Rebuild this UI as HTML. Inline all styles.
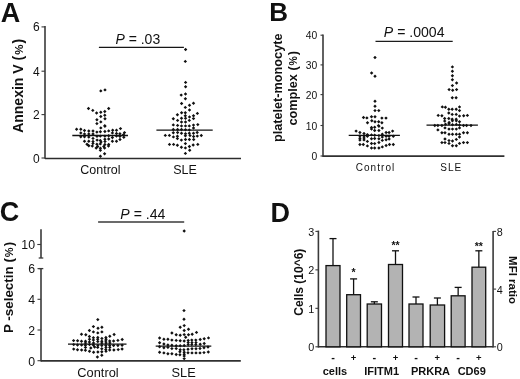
<!DOCTYPE html>
<html><head><meta charset="utf-8"><style>
html,body{margin:0;padding:0;background:#fff;}
body{width:520px;height:379px;overflow:hidden;}
svg{display:block;font-family:"Liberation Sans", sans-serif;filter:blur(0.3px);}
text{fill:#111;}
</style></head><body>
<svg width="520" height="379" viewBox="0 0 520 379">
<rect width="520" height="379" fill="#fff"/>
<text x="0.8" y="22.0" font-size="27" text-anchor="start" font-weight="bold" font-style="normal" >A</text><line x1="45" y1="25.9" x2="45" y2="158.8" stroke="#3a3a3a" stroke-width="1.6"/><line x1="45" y1="158.4" x2="241" y2="158.4" stroke="#2c2c2c" stroke-width="1.5"/><line x1="41.5" y1="158" x2="45" y2="158" stroke="#3a3a3a" stroke-width="1.1"/><text x="39.6" y="162.5" font-size="12" text-anchor="end" font-weight="normal" font-style="normal" >0</text><line x1="41.5" y1="114.6" x2="45" y2="114.6" stroke="#3a3a3a" stroke-width="1.1"/><text x="39.6" y="119.1" font-size="12" text-anchor="end" font-weight="normal" font-style="normal" >2</text><line x1="41.5" y1="71.2" x2="45" y2="71.2" stroke="#3a3a3a" stroke-width="1.1"/><text x="39.6" y="75.7" font-size="12" text-anchor="end" font-weight="normal" font-style="normal" >4</text><line x1="41.5" y1="26.9" x2="45" y2="26.9" stroke="#3a3a3a" stroke-width="1.1"/><text x="39.6" y="31.4" font-size="12" text-anchor="end" font-weight="normal" font-style="normal" >6</text><text x="100.4" y="173.8" font-size="12.5" text-anchor="middle" font-weight="normal" font-style="normal" >Control</text><text x="185" y="173.8" font-size="12.5" text-anchor="middle" font-weight="normal" font-style="normal" >SLE</text><text transform="translate(23.3,85.8) rotate(-90)" font-size="14" font-weight="bold" text-anchor="middle">Annexin V (<tspan font-size="11.5" dx="1">%</tspan><tspan dx="1.2">)</tspan></text><line x1="98.9" y1="47.4" x2="183.9" y2="47.4" stroke="#161616" stroke-width="1.3"/><text x="137.8" y="44.1" font-size="14" text-anchor="middle"><tspan font-style="italic">P</tspan> = .03</text><line x1="72.3" y1="135.5" x2="128" y2="135.5" stroke="#111" stroke-width="1.3"/><line x1="156.4" y1="130.1" x2="212.7" y2="130.1" stroke="#111" stroke-width="1.3"/><text x="269.2" y="21.4" font-size="26" text-anchor="start" font-weight="bold" font-style="normal" >B</text><line x1="323" y1="34.400000000000006" x2="323" y2="156.9" stroke="#3a3a3a" stroke-width="1.6"/><line x1="323" y1="156.1" x2="504.4" y2="156.1" stroke="#303030" stroke-width="1.6"/><line x1="320.5" y1="156" x2="323" y2="156" stroke="#3a3a3a" stroke-width="1.1"/><text x="317.2" y="160.1" font-size="10.3" text-anchor="end" font-weight="normal" font-style="normal" >0</text><line x1="320.5" y1="125.5" x2="323" y2="125.5" stroke="#3a3a3a" stroke-width="1.1"/><text x="317.2" y="129.6" font-size="10.3" text-anchor="end" font-weight="normal" font-style="normal" >10</text><line x1="320.5" y1="94.6" x2="323" y2="94.6" stroke="#3a3a3a" stroke-width="1.1"/><text x="317.2" y="98.69999999999999" font-size="10.3" text-anchor="end" font-weight="normal" font-style="normal" >20</text><line x1="320.5" y1="64.9" x2="323" y2="64.9" stroke="#3a3a3a" stroke-width="1.1"/><text x="317.2" y="69.0" font-size="10.3" text-anchor="end" font-weight="normal" font-style="normal" >30</text><line x1="320.5" y1="35.2" x2="323" y2="35.2" stroke="#3a3a3a" stroke-width="1.1"/><text x="317.2" y="39.300000000000004" font-size="10.3" text-anchor="end" font-weight="normal" font-style="normal" >40</text><text x="375.5" y="170.8" font-size="10" text-anchor="middle" font-weight="normal" font-style="normal" letter-spacing="1.05">Control</text><text x="451.3" y="170.8" font-size="10" text-anchor="middle" font-weight="normal" font-style="normal" letter-spacing="1.1">SLE</text><text transform="translate(282.2,87.8) rotate(-90)" font-size="12.7" font-weight="bold" text-anchor="middle">platelet-monocyte</text><text transform="translate(297.2,88.3) rotate(-90)" font-size="12.7" font-weight="bold" text-anchor="middle">complex (<tspan font-size="10.5" dx="0.8">%</tspan><tspan dx="1">)</tspan></text><line x1="375.5" y1="41.4" x2="452.7" y2="41.4" stroke="#1c1c1c" stroke-width="1.4"/><text x="414.2" y="37.3" font-size="14.1" text-anchor="middle"><tspan font-style="italic">P</tspan> = .0004</text><line x1="348.7" y1="135.3" x2="399.9" y2="135.3" stroke="#111" stroke-width="1.3"/><line x1="426.5" y1="125.2" x2="477.9" y2="125.2" stroke="#111" stroke-width="1.3"/><text x="-0.3" y="221.2" font-size="27" text-anchor="start" font-weight="bold" font-style="normal" >C</text><line x1="41" y1="229.2" x2="41" y2="258" stroke="#3a3a3a" stroke-width="1.6"/><line x1="38.7" y1="258" x2="43.3" y2="258" stroke="#3a3a3a" stroke-width="1.3"/><line x1="37.3" y1="244.5" x2="41" y2="244.5" stroke="#3a3a3a" stroke-width="1.1"/><text x="35.0" y="249.2" font-size="12.3" text-anchor="end" font-weight="normal" font-style="normal" >10</text><line x1="41" y1="268.6" x2="41" y2="361.5" stroke="#3a3a3a" stroke-width="1.6"/><line x1="38.5" y1="268.6" x2="43.3" y2="268.6" stroke="#3a3a3a" stroke-width="1.3"/><line x1="41" y1="360.9" x2="240.8" y2="360.9" stroke="#303030" stroke-width="1.6"/><line x1="37.5" y1="360.7" x2="41" y2="360.7" stroke="#3a3a3a" stroke-width="1.1"/><text x="35.0" y="365.5" font-size="12.3" text-anchor="end" font-weight="normal" font-style="normal" >0</text><line x1="37.5" y1="330.0" x2="41" y2="330.0" stroke="#3a3a3a" stroke-width="1.1"/><text x="35.0" y="334.8" font-size="12.3" text-anchor="end" font-weight="normal" font-style="normal" >2</text><line x1="37.5" y1="299.3" x2="41" y2="299.3" stroke="#3a3a3a" stroke-width="1.1"/><text x="35.0" y="304.1" font-size="12.3" text-anchor="end" font-weight="normal" font-style="normal" >4</text><line x1="37.5" y1="268.6" x2="41" y2="268.6" stroke="#3a3a3a" stroke-width="1.1"/><text x="35.0" y="273.40000000000003" font-size="12.3" text-anchor="end" font-weight="normal" font-style="normal" >6</text><text x="98" y="376.6" font-size="12.8" text-anchor="middle" font-weight="normal" font-style="normal" >Control</text><text x="183.6" y="376.6" font-size="12.8" text-anchor="middle" font-weight="normal" font-style="normal" >SLE</text><text transform="translate(13.2,287.4) rotate(-90)" font-size="13.4" font-weight="bold" text-anchor="middle">P -selectin (<tspan font-size="11" dx="1">%</tspan><tspan dx="1.2">)</tspan></text><line x1="98.1" y1="221.9" x2="184.2" y2="221.9" stroke="#3a3a3a" stroke-width="1.5"/><text x="142.9" y="218.6" font-size="14.1" text-anchor="middle"><tspan font-style="italic">P</tspan> = .44</text><line x1="68" y1="344.1" x2="126.5" y2="344.1" stroke="#111" stroke-width="1.3"/><line x1="155.7" y1="346.1" x2="211.3" y2="346.1" stroke="#111" stroke-width="1.3"/><text x="270.6" y="222.0" font-size="27" text-anchor="start" font-weight="bold" font-style="normal" >D</text><line x1="318.4" y1="230.6" x2="318.4" y2="347.6" stroke="#3a3a3a" stroke-width="1.6"/><line x1="493.1" y1="231.1" x2="493.1" y2="347.6" stroke="#3a3a3a" stroke-width="1.6"/><line x1="318.4" y1="346.8" x2="493.1" y2="346.8" stroke="#303030" stroke-width="1.6"/><line x1="315.4" y1="346.8" x2="318.4" y2="346.8" stroke="#3a3a3a" stroke-width="1.1"/><text x="314.2" y="351.3" font-size="10.8" text-anchor="end" font-weight="normal" font-style="normal" >0</text><line x1="315.4" y1="308.33333333333337" x2="318.4" y2="308.33333333333337" stroke="#3a3a3a" stroke-width="1.1"/><text x="314.2" y="312.83333333333337" font-size="10.8" text-anchor="end" font-weight="normal" font-style="normal" >1</text><line x1="315.4" y1="269.8666666666667" x2="318.4" y2="269.8666666666667" stroke="#3a3a3a" stroke-width="1.1"/><text x="314.2" y="274.3666666666667" font-size="10.8" text-anchor="end" font-weight="normal" font-style="normal" >2</text><line x1="315.4" y1="231.39999999999998" x2="318.4" y2="231.39999999999998" stroke="#3a3a3a" stroke-width="1.1"/><text x="314.2" y="235.89999999999998" font-size="10.8" text-anchor="end" font-weight="normal" font-style="normal" >3</text><line x1="493.1" y1="346.8" x2="496.1" y2="346.8" stroke="#3a3a3a" stroke-width="1.1"/><text x="496.8" y="351.3" font-size="10.8" text-anchor="start" font-weight="normal" font-style="normal" >0</text><line x1="493.1" y1="289.1" x2="496.1" y2="289.1" stroke="#3a3a3a" stroke-width="1.1"/><text x="496.8" y="293.6" font-size="10.8" text-anchor="start" font-weight="normal" font-style="normal" >4</text><line x1="493.1" y1="231.4" x2="496.1" y2="231.4" stroke="#3a3a3a" stroke-width="1.1"/><text x="496.8" y="235.9" font-size="10.8" text-anchor="start" font-weight="normal" font-style="normal" >8</text><line x1="333.0" y1="238.6" x2="333.0" y2="265.6" stroke="#111" stroke-width="1.3"/><line x1="329.5" y1="238.6" x2="336.5" y2="238.6" stroke="#111" stroke-width="1.3"/><rect x="326" y="265.6" width="14" height="81.19999999999999" fill="#b3b3b3" stroke="#111" stroke-width="1.3"/><line x1="353.6" y1="278.9" x2="353.6" y2="294.7" stroke="#111" stroke-width="1.3"/><line x1="350.1" y1="278.9" x2="357.1" y2="278.9" stroke="#111" stroke-width="1.3"/><rect x="346.7" y="294.7" width="13.800000000000011" height="52.10000000000002" fill="#b3b3b3" stroke="#111" stroke-width="1.3"/><line x1="374.35" y1="301.8" x2="374.35" y2="304" stroke="#111" stroke-width="1.3"/><line x1="370.85" y1="301.8" x2="377.85" y2="301.8" stroke="#111" stroke-width="1.3"/><rect x="367.2" y="304" width="14.300000000000011" height="42.80000000000001" fill="#b3b3b3" stroke="#111" stroke-width="1.3"/><line x1="395.5" y1="250.8" x2="395.5" y2="264.5" stroke="#111" stroke-width="1.3"/><line x1="392.0" y1="250.8" x2="399.0" y2="250.8" stroke="#111" stroke-width="1.3"/><rect x="388.5" y="264.5" width="14.0" height="82.30000000000001" fill="#b3b3b3" stroke="#111" stroke-width="1.3"/><line x1="416.0" y1="297" x2="416.0" y2="304" stroke="#111" stroke-width="1.3"/><line x1="412.5" y1="297" x2="419.5" y2="297" stroke="#111" stroke-width="1.3"/><rect x="409" y="304" width="14" height="42.80000000000001" fill="#b3b3b3" stroke="#111" stroke-width="1.3"/><line x1="437.4" y1="298" x2="437.4" y2="305" stroke="#111" stroke-width="1.3"/><line x1="433.9" y1="298" x2="440.9" y2="298" stroke="#111" stroke-width="1.3"/><rect x="430.2" y="305" width="14.400000000000034" height="41.80000000000001" fill="#b3b3b3" stroke="#111" stroke-width="1.3"/><line x1="458.15" y1="287.4" x2="458.15" y2="295.8" stroke="#111" stroke-width="1.3"/><line x1="454.65" y1="287.4" x2="461.65" y2="287.4" stroke="#111" stroke-width="1.3"/><rect x="451.2" y="295.8" width="13.900000000000034" height="51.0" fill="#b3b3b3" stroke="#111" stroke-width="1.3"/><line x1="478.85" y1="250.8" x2="478.85" y2="267.2" stroke="#111" stroke-width="1.3"/><line x1="475.35" y1="250.8" x2="482.35" y2="250.8" stroke="#111" stroke-width="1.3"/><rect x="472" y="267.2" width="13.699999999999989" height="79.60000000000002" fill="#b3b3b3" stroke="#111" stroke-width="1.3"/><text x="333.0" y="361" font-size="11" text-anchor="middle" font-weight="bold" font-style="normal" >-</text><text x="353.6" y="360.6" font-size="9.5" text-anchor="middle" font-weight="bold" font-style="normal" >+</text><text x="374.35" y="361" font-size="11" text-anchor="middle" font-weight="bold" font-style="normal" >-</text><text x="395.5" y="360.6" font-size="9.5" text-anchor="middle" font-weight="bold" font-style="normal" >+</text><text x="416.0" y="361" font-size="11" text-anchor="middle" font-weight="bold" font-style="normal" >-</text><text x="437.4" y="360.6" font-size="9.5" text-anchor="middle" font-weight="bold" font-style="normal" >+</text><text x="458.15" y="361" font-size="11" text-anchor="middle" font-weight="bold" font-style="normal" >-</text><text x="478.85" y="360.6" font-size="9.5" text-anchor="middle" font-weight="bold" font-style="normal" >+</text><text x="353.6" y="276.3" font-size="10.5" text-anchor="middle" font-weight="bold" font-style="normal" >*</text><text x="395.5" y="249.4" font-size="10.5" text-anchor="middle" font-weight="bold" font-style="normal" >**</text><text x="478.85" y="250.3" font-size="10.5" text-anchor="middle" font-weight="bold" font-style="normal" >**</text><text x="334.9" y="375.3" font-size="11" text-anchor="middle" font-weight="bold" font-style="normal" >cells</text><text x="381.7" y="375.3" font-size="11" text-anchor="middle" font-weight="bold" font-style="normal" >IFITM1</text><text x="430.5" y="375.3" font-size="11" text-anchor="middle" font-weight="bold" font-style="normal" >PRKRA</text><text x="471.7" y="375.3" font-size="11" text-anchor="middle" font-weight="bold" font-style="normal" >CD69</text><text transform="translate(302.5,282.2) rotate(-90)" font-size="12" font-weight="bold" text-anchor="middle">Cells (10^6)</text><text transform="translate(509,280) rotate(90)" font-size="11.5" font-weight="bold" text-anchor="middle">MFI ratio</text>
<g fill="#111"><path d="M100.8 89.18l1.72 1.72 -1.72 1.72 -1.72 -1.72zM105.0 88.18l1.72 1.72 -1.72 1.72 -1.72 -1.72zM88.5 106.78l1.72 1.72 -1.72 1.72 -1.72 -1.72zM92.8 108.68l1.72 1.72 -1.72 1.72 -1.72 -1.72zM96.6 111.28l1.72 1.72 -1.72 1.72 -1.72 -1.72zM100.8 110.58l1.72 1.72 -1.72 1.72 -1.72 -1.72zM104.8 109.78l1.72 1.72 -1.72 1.72 -1.72 -1.72zM108.7 106.78l1.72 1.72 -1.72 1.72 -1.72 -1.72zM100.8 114.78l1.72 1.72 -1.72 1.72 -1.72 -1.72zM104.8 113.48l1.72 1.72 -1.72 1.72 -1.72 -1.72zM96.9 117.98l1.72 1.72 -1.72 1.72 -1.72 -1.72zM105.0 117.08l1.72 1.72 -1.72 1.72 -1.72 -1.72zM100.8 120.18l1.72 1.72 -1.72 1.72 -1.72 -1.72zM96.9 121.88l1.72 1.72 -1.72 1.72 -1.72 -1.72zM104.8 124.08l1.72 1.72 -1.72 1.72 -1.72 -1.72zM100.8 126.18l1.72 1.72 -1.72 1.72 -1.72 -1.72zM76.6 127.48l1.72 1.72 -1.72 1.72 -1.72 -1.72zM80.8 127.48l1.72 1.72 -1.72 1.72 -1.72 -1.72zM120.5 126.88l1.72 1.72 -1.72 1.72 -1.72 -1.72zM104.9 124.58l1.72 1.72 -1.72 1.72 -1.72 -1.72zM84.5 128.78l1.72 1.72 -1.72 1.72 -1.72 -1.72zM88.8 129.28l1.72 1.72 -1.72 1.72 -1.72 -1.72zM93.0 129.28l1.72 1.72 -1.72 1.72 -1.72 -1.72zM96.9 130.38l1.72 1.72 -1.72 1.72 -1.72 -1.72zM100.4 130.08l1.72 1.72 -1.72 1.72 -1.72 -1.72zM104.9 129.78l1.72 1.72 -1.72 1.72 -1.72 -1.72zM108.7 129.18l1.72 1.72 -1.72 1.72 -1.72 -1.72zM112.7 128.58l1.72 1.72 -1.72 1.72 -1.72 -1.72zM116.5 128.58l1.72 1.72 -1.72 1.72 -1.72 -1.72zM124.5 130.88l1.72 1.72 -1.72 1.72 -1.72 -1.72zM80.8 131.18l1.72 1.72 -1.72 1.72 -1.72 -1.72zM84.5 132.18l1.72 1.72 -1.72 1.72 -1.72 -1.72zM88.8 132.18l1.72 1.72 -1.72 1.72 -1.72 -1.72zM93.0 132.28l1.72 1.72 -1.72 1.72 -1.72 -1.72zM112.4 131.18l1.72 1.72 -1.72 1.72 -1.72 -1.72zM116.5 131.78l1.72 1.72 -1.72 1.72 -1.72 -1.72zM119.9 132.08l1.72 1.72 -1.72 1.72 -1.72 -1.72zM123.5 133.08l1.72 1.72 -1.72 1.72 -1.72 -1.72zM80.8 135.08l1.72 1.72 -1.72 1.72 -1.72 -1.72zM84.5 135.08l1.72 1.72 -1.72 1.72 -1.72 -1.72zM88.8 135.38l1.72 1.72 -1.72 1.72 -1.72 -1.72zM97.0 134.58l1.72 1.72 -1.72 1.72 -1.72 -1.72zM100.3 134.38l1.72 1.72 -1.72 1.72 -1.72 -1.72zM104.9 134.38l1.72 1.72 -1.72 1.72 -1.72 -1.72zM108.7 134.08l1.72 1.72 -1.72 1.72 -1.72 -1.72zM112.4 135.78l1.72 1.72 -1.72 1.72 -1.72 -1.72zM116.5 134.38l1.72 1.72 -1.72 1.72 -1.72 -1.72zM119.9 134.68l1.72 1.72 -1.72 1.72 -1.72 -1.72zM123.8 135.48l1.72 1.72 -1.72 1.72 -1.72 -1.72zM93.0 136.68l1.72 1.72 -1.72 1.72 -1.72 -1.72zM97.1 138.38l1.72 1.72 -1.72 1.72 -1.72 -1.72zM100.3 138.68l1.72 1.72 -1.72 1.72 -1.72 -1.72zM104.9 137.58l1.72 1.72 -1.72 1.72 -1.72 -1.72zM108.7 137.28l1.72 1.72 -1.72 1.72 -1.72 -1.72zM120.0 137.78l1.72 1.72 -1.72 1.72 -1.72 -1.72zM84.5 139.58l1.72 1.72 -1.72 1.72 -1.72 -1.72zM88.8 139.58l1.72 1.72 -1.72 1.72 -1.72 -1.72zM93.0 139.78l1.72 1.72 -1.72 1.72 -1.72 -1.72zM101.0 140.28l1.72 1.72 -1.72 1.72 -1.72 -1.72zM105.0 139.78l1.72 1.72 -1.72 1.72 -1.72 -1.72zM112.4 139.58l1.72 1.72 -1.72 1.72 -1.72 -1.72zM116.5 139.58l1.72 1.72 -1.72 1.72 -1.72 -1.72zM87.0 142.48l1.72 1.72 -1.72 1.72 -1.72 -1.72zM93.0 141.68l1.72 1.72 -1.72 1.72 -1.72 -1.72zM96.9 142.48l1.72 1.72 -1.72 1.72 -1.72 -1.72zM100.3 142.18l1.72 1.72 -1.72 1.72 -1.72 -1.72zM104.9 142.78l1.72 1.72 -1.72 1.72 -1.72 -1.72zM108.7 142.78l1.72 1.72 -1.72 1.72 -1.72 -1.72zM88.8 144.08l1.72 1.72 -1.72 1.72 -1.72 -1.72zM92.3 144.28l1.72 1.72 -1.72 1.72 -1.72 -1.72zM97.7 144.78l1.72 1.72 -1.72 1.72 -1.72 -1.72zM103.8 144.78l1.72 1.72 -1.72 1.72 -1.72 -1.72zM108.5 144.28l1.72 1.72 -1.72 1.72 -1.72 -1.72zM96.2 146.28l1.72 1.72 -1.72 1.72 -1.72 -1.72zM100.4 146.58l1.72 1.72 -1.72 1.72 -1.72 -1.72zM104.6 146.28l1.72 1.72 -1.72 1.72 -1.72 -1.72zM100.4 148.58l1.72 1.72 -1.72 1.72 -1.72 -1.72zM104.6 152.08l1.72 1.72 -1.72 1.72 -1.72 -1.72zM100.4 154.48l1.72 1.72 -1.72 1.72 -1.72 -1.72zM185.6 47.78l1.72 1.72 -1.72 1.72 -1.72 -1.72zM185.3 59.68l1.72 1.72 -1.72 1.72 -1.72 -1.72zM185.6 80.68l1.72 1.72 -1.72 1.72 -1.72 -1.72zM185.6 84.98l1.72 1.72 -1.72 1.72 -1.72 -1.72zM181.2 93.38l1.72 1.72 -1.72 1.72 -1.72 -1.72zM185.5 92.28l1.72 1.72 -1.72 1.72 -1.72 -1.72zM185.4 96.98l1.72 1.72 -1.72 1.72 -1.72 -1.72zM181.6 101.78l1.72 1.72 -1.72 1.72 -1.72 -1.72zM193.5 101.48l1.72 1.72 -1.72 1.72 -1.72 -1.72zM189.5 103.58l1.72 1.72 -1.72 1.72 -1.72 -1.72zM185.3 105.68l1.72 1.72 -1.72 1.72 -1.72 -1.72zM189.5 108.28l1.72 1.72 -1.72 1.72 -1.72 -1.72zM181.6 110.98l1.72 1.72 -1.72 1.72 -1.72 -1.72zM185.3 110.98l1.72 1.72 -1.72 1.72 -1.72 -1.72zM197.4 111.68l1.72 1.72 -1.72 1.72 -1.72 -1.72zM177.4 113.08l1.72 1.72 -1.72 1.72 -1.72 -1.72zM185.3 114.08l1.72 1.72 -1.72 1.72 -1.72 -1.72zM189.5 115.18l1.72 1.72 -1.72 1.72 -1.72 -1.72zM193.5 114.08l1.72 1.72 -1.72 1.72 -1.72 -1.72zM173.3 117.08l1.72 1.72 -1.72 1.72 -1.72 -1.72zM177.6 118.68l1.72 1.72 -1.72 1.72 -1.72 -1.72zM181.5 116.58l1.72 1.72 -1.72 1.72 -1.72 -1.72zM181.5 120.28l1.72 1.72 -1.72 1.72 -1.72 -1.72zM185.5 116.58l1.72 1.72 -1.72 1.72 -1.72 -1.72zM185.5 120.28l1.72 1.72 -1.72 1.72 -1.72 -1.72zM189.3 118.68l1.72 1.72 -1.72 1.72 -1.72 -1.72zM193.5 116.78l1.72 1.72 -1.72 1.72 -1.72 -1.72zM173.3 123.18l1.72 1.72 -1.72 1.72 -1.72 -1.72zM177.6 123.68l1.72 1.72 -1.72 1.72 -1.72 -1.72zM181.5 124.18l1.72 1.72 -1.72 1.72 -1.72 -1.72zM185.5 124.18l1.72 1.72 -1.72 1.72 -1.72 -1.72zM189.3 124.18l1.72 1.72 -1.72 1.72 -1.72 -1.72zM193.5 123.38l1.72 1.72 -1.72 1.72 -1.72 -1.72zM197.8 122.88l1.72 1.72 -1.72 1.72 -1.72 -1.72zM193.5 126.28l1.72 1.72 -1.72 1.72 -1.72 -1.72zM173.3 127.78l1.72 1.72 -1.72 1.72 -1.72 -1.72zM177.6 127.78l1.72 1.72 -1.72 1.72 -1.72 -1.72zM181.5 127.78l1.72 1.72 -1.72 1.72 -1.72 -1.72zM185.5 128.08l1.72 1.72 -1.72 1.72 -1.72 -1.72zM189.3 128.18l1.72 1.72 -1.72 1.72 -1.72 -1.72zM173.3 131.08l1.72 1.72 -1.72 1.72 -1.72 -1.72zM177.6 130.78l1.72 1.72 -1.72 1.72 -1.72 -1.72zM181.5 131.58l1.72 1.72 -1.72 1.72 -1.72 -1.72zM185.5 132.08l1.72 1.72 -1.72 1.72 -1.72 -1.72zM189.3 131.58l1.72 1.72 -1.72 1.72 -1.72 -1.72zM193.5 131.58l1.72 1.72 -1.72 1.72 -1.72 -1.72zM197.2 130.78l1.72 1.72 -1.72 1.72 -1.72 -1.72zM165.3 133.68l1.72 1.72 -1.72 1.72 -1.72 -1.72zM169.4 133.68l1.72 1.72 -1.72 1.72 -1.72 -1.72zM173.4 135.18l1.72 1.72 -1.72 1.72 -1.72 -1.72zM177.4 134.48l1.72 1.72 -1.72 1.72 -1.72 -1.72zM185.4 134.08l1.72 1.72 -1.72 1.72 -1.72 -1.72zM190.0 133.88l1.72 1.72 -1.72 1.72 -1.72 -1.72zM193.6 134.78l1.72 1.72 -1.72 1.72 -1.72 -1.72zM197.3 134.38l1.72 1.72 -1.72 1.72 -1.72 -1.72zM201.3 133.78l1.72 1.72 -1.72 1.72 -1.72 -1.72zM177.4 136.88l1.72 1.72 -1.72 1.72 -1.72 -1.72zM181.4 138.38l1.72 1.72 -1.72 1.72 -1.72 -1.72zM185.5 137.78l1.72 1.72 -1.72 1.72 -1.72 -1.72zM189.4 137.78l1.72 1.72 -1.72 1.72 -1.72 -1.72zM193.7 137.78l1.72 1.72 -1.72 1.72 -1.72 -1.72zM185.4 141.88l1.72 1.72 -1.72 1.72 -1.72 -1.72zM169.5 142.68l1.72 1.72 -1.72 1.72 -1.72 -1.72zM173.6 142.68l1.72 1.72 -1.72 1.72 -1.72 -1.72zM177.4 143.58l1.72 1.72 -1.72 1.72 -1.72 -1.72zM193.2 143.28l1.72 1.72 -1.72 1.72 -1.72 -1.72zM197.8 142.68l1.72 1.72 -1.72 1.72 -1.72 -1.72zM181.4 145.58l1.72 1.72 -1.72 1.72 -1.72 -1.72zM185.4 146.18l1.72 1.72 -1.72 1.72 -1.72 -1.72zM189.4 144.78l1.72 1.72 -1.72 1.72 -1.72 -1.72zM189.7 148.58l1.72 1.72 -1.72 1.72 -1.72 -1.72zM185.4 151.68l1.72 1.72 -1.72 1.72 -1.72 -1.72zM375.0 55.78l1.72 1.72 -1.72 1.72 -1.72 -1.72zM371.6 71.28l1.72 1.72 -1.72 1.72 -1.72 -1.72zM375.0 74.48l1.72 1.72 -1.72 1.72 -1.72 -1.72zM375.0 99.48l1.72 1.72 -1.72 1.72 -1.72 -1.72zM375.0 104.58l1.72 1.72 -1.72 1.72 -1.72 -1.72zM375.0 108.88l1.72 1.72 -1.72 1.72 -1.72 -1.72zM378.8 108.88l1.72 1.72 -1.72 1.72 -1.72 -1.72zM363.5 115.78l1.72 1.72 -1.72 1.72 -1.72 -1.72zM366.9 116.18l1.72 1.72 -1.72 1.72 -1.72 -1.72zM371.5 114.98l1.72 1.72 -1.72 1.72 -1.72 -1.72zM375.0 114.98l1.72 1.72 -1.72 1.72 -1.72 -1.72zM381.9 116.38l1.72 1.72 -1.72 1.72 -1.72 -1.72zM386.0 116.38l1.72 1.72 -1.72 1.72 -1.72 -1.72zM367.5 121.08l1.72 1.72 -1.72 1.72 -1.72 -1.72zM371.8 119.08l1.72 1.72 -1.72 1.72 -1.72 -1.72zM375.0 119.98l1.72 1.72 -1.72 1.72 -1.72 -1.72zM378.7 119.98l1.72 1.72 -1.72 1.72 -1.72 -1.72zM381.9 121.08l1.72 1.72 -1.72 1.72 -1.72 -1.72zM378.5 123.88l1.72 1.72 -1.72 1.72 -1.72 -1.72zM371.5 125.68l1.72 1.72 -1.72 1.72 -1.72 -1.72zM374.7 125.48l1.72 1.72 -1.72 1.72 -1.72 -1.72zM378.9 124.58l1.72 1.72 -1.72 1.72 -1.72 -1.72zM382.3 126.38l1.72 1.72 -1.72 1.72 -1.72 -1.72zM371.5 127.28l1.72 1.72 -1.72 1.72 -1.72 -1.72zM374.7 128.78l1.72 1.72 -1.72 1.72 -1.72 -1.72zM378.9 128.78l1.72 1.72 -1.72 1.72 -1.72 -1.72zM392.6 129.38l1.72 1.72 -1.72 1.72 -1.72 -1.72zM356.1 129.38l1.72 1.72 -1.72 1.72 -1.72 -1.72zM359.9 130.78l1.72 1.72 -1.72 1.72 -1.72 -1.72zM364.0 131.78l1.72 1.72 -1.72 1.72 -1.72 -1.72zM367.4 132.88l1.72 1.72 -1.72 1.72 -1.72 -1.72zM386.1 130.78l1.72 1.72 -1.72 1.72 -1.72 -1.72zM389.1 130.78l1.72 1.72 -1.72 1.72 -1.72 -1.72zM382.3 132.48l1.72 1.72 -1.72 1.72 -1.72 -1.72zM371.5 133.18l1.72 1.72 -1.72 1.72 -1.72 -1.72zM374.7 133.58l1.72 1.72 -1.72 1.72 -1.72 -1.72zM378.9 133.88l1.72 1.72 -1.72 1.72 -1.72 -1.72zM359.9 134.28l1.72 1.72 -1.72 1.72 -1.72 -1.72zM364.0 134.28l1.72 1.72 -1.72 1.72 -1.72 -1.72zM367.4 134.58l1.72 1.72 -1.72 1.72 -1.72 -1.72zM382.3 135.28l1.72 1.72 -1.72 1.72 -1.72 -1.72zM386.1 134.58l1.72 1.72 -1.72 1.72 -1.72 -1.72zM389.1 134.58l1.72 1.72 -1.72 1.72 -1.72 -1.72zM393.3 134.58l1.72 1.72 -1.72 1.72 -1.72 -1.72zM359.9 136.58l1.72 1.72 -1.72 1.72 -1.72 -1.72zM364.0 136.28l1.72 1.72 -1.72 1.72 -1.72 -1.72zM371.5 136.98l1.72 1.72 -1.72 1.72 -1.72 -1.72zM374.7 136.78l1.72 1.72 -1.72 1.72 -1.72 -1.72zM378.9 136.98l1.72 1.72 -1.72 1.72 -1.72 -1.72zM359.9 138.38l1.72 1.72 -1.72 1.72 -1.72 -1.72zM364.0 138.18l1.72 1.72 -1.72 1.72 -1.72 -1.72zM367.4 139.68l1.72 1.72 -1.72 1.72 -1.72 -1.72zM382.3 138.68l1.72 1.72 -1.72 1.72 -1.72 -1.72zM386.1 137.98l1.72 1.72 -1.72 1.72 -1.72 -1.72zM389.1 137.28l1.72 1.72 -1.72 1.72 -1.72 -1.72zM378.9 140.78l1.72 1.72 -1.72 1.72 -1.72 -1.72zM371.5 141.78l1.72 1.72 -1.72 1.72 -1.72 -1.72zM374.7 141.88l1.72 1.72 -1.72 1.72 -1.72 -1.72zM359.9 142.78l1.72 1.72 -1.72 1.72 -1.72 -1.72zM363.3 142.78l1.72 1.72 -1.72 1.72 -1.72 -1.72zM367.4 144.18l1.72 1.72 -1.72 1.72 -1.72 -1.72zM386.1 143.78l1.72 1.72 -1.72 1.72 -1.72 -1.72zM389.5 142.78l1.72 1.72 -1.72 1.72 -1.72 -1.72zM393.3 142.78l1.72 1.72 -1.72 1.72 -1.72 -1.72zM382.3 145.18l1.72 1.72 -1.72 1.72 -1.72 -1.72zM371.5 146.28l1.72 1.72 -1.72 1.72 -1.72 -1.72zM374.7 146.28l1.72 1.72 -1.72 1.72 -1.72 -1.72zM378.9 146.28l1.72 1.72 -1.72 1.72 -1.72 -1.72zM452.4 65.18l1.72 1.72 -1.72 1.72 -1.72 -1.72zM452.4 69.48l1.72 1.72 -1.72 1.72 -1.72 -1.72zM452.4 74.08l1.72 1.72 -1.72 1.72 -1.72 -1.72zM452.4 78.08l1.72 1.72 -1.72 1.72 -1.72 -1.72zM456.6 81.28l1.72 1.72 -1.72 1.72 -1.72 -1.72zM452.4 83.88l1.72 1.72 -1.72 1.72 -1.72 -1.72zM449.1 87.88l1.72 1.72 -1.72 1.72 -1.72 -1.72zM452.7 88.58l1.72 1.72 -1.72 1.72 -1.72 -1.72zM456.6 87.88l1.72 1.72 -1.72 1.72 -1.72 -1.72zM452.3 95.98l1.72 1.72 -1.72 1.72 -1.72 -1.72zM456.1 95.98l1.72 1.72 -1.72 1.72 -1.72 -1.72zM442.3 105.18l1.72 1.72 -1.72 1.72 -1.72 -1.72zM445.4 105.48l1.72 1.72 -1.72 1.72 -1.72 -1.72zM448.8 107.58l1.72 1.72 -1.72 1.72 -1.72 -1.72zM452.2 107.58l1.72 1.72 -1.72 1.72 -1.72 -1.72zM456.2 107.58l1.72 1.72 -1.72 1.72 -1.72 -1.72zM459.5 105.18l1.72 1.72 -1.72 1.72 -1.72 -1.72zM459.5 108.88l1.72 1.72 -1.72 1.72 -1.72 -1.72zM448.8 111.28l1.72 1.72 -1.72 1.72 -1.72 -1.72zM452.2 112.68l1.72 1.72 -1.72 1.72 -1.72 -1.72zM456.2 112.68l1.72 1.72 -1.72 1.72 -1.72 -1.72zM459.5 114.38l1.72 1.72 -1.72 1.72 -1.72 -1.72zM463.7 114.08l1.72 1.72 -1.72 1.72 -1.72 -1.72zM467.4 113.68l1.72 1.72 -1.72 1.72 -1.72 -1.72zM438.2 113.68l1.72 1.72 -1.72 1.72 -1.72 -1.72zM441.9 114.08l1.72 1.72 -1.72 1.72 -1.72 -1.72zM444.7 116.78l1.72 1.72 -1.72 1.72 -1.72 -1.72zM444.7 119.38l1.72 1.72 -1.72 1.72 -1.72 -1.72zM448.8 116.78l1.72 1.72 -1.72 1.72 -1.72 -1.72zM452.2 117.58l1.72 1.72 -1.72 1.72 -1.72 -1.72zM456.2 117.48l1.72 1.72 -1.72 1.72 -1.72 -1.72zM449.1 120.78l1.72 1.72 -1.72 1.72 -1.72 -1.72zM452.4 119.08l1.72 1.72 -1.72 1.72 -1.72 -1.72zM456.3 119.08l1.72 1.72 -1.72 1.72 -1.72 -1.72zM459.5 120.08l1.72 1.72 -1.72 1.72 -1.72 -1.72zM434.8 123.78l1.72 1.72 -1.72 1.72 -1.72 -1.72zM437.9 123.78l1.72 1.72 -1.72 1.72 -1.72 -1.72zM441.9 123.78l1.72 1.72 -1.72 1.72 -1.72 -1.72zM445.5 122.58l1.72 1.72 -1.72 1.72 -1.72 -1.72zM449.0 122.08l1.72 1.72 -1.72 1.72 -1.72 -1.72zM452.5 123.08l1.72 1.72 -1.72 1.72 -1.72 -1.72zM456.3 122.68l1.72 1.72 -1.72 1.72 -1.72 -1.72zM459.5 123.28l1.72 1.72 -1.72 1.72 -1.72 -1.72zM463.5 123.78l1.72 1.72 -1.72 1.72 -1.72 -1.72zM466.6 123.78l1.72 1.72 -1.72 1.72 -1.72 -1.72zM471.0 123.78l1.72 1.72 -1.72 1.72 -1.72 -1.72zM445.0 126.18l1.72 1.72 -1.72 1.72 -1.72 -1.72zM449.0 127.38l1.72 1.72 -1.72 1.72 -1.72 -1.72zM452.5 127.38l1.72 1.72 -1.72 1.72 -1.72 -1.72zM456.3 127.38l1.72 1.72 -1.72 1.72 -1.72 -1.72zM459.5 126.18l1.72 1.72 -1.72 1.72 -1.72 -1.72zM437.9 128.18l1.72 1.72 -1.72 1.72 -1.72 -1.72zM441.9 130.98l1.72 1.72 -1.72 1.72 -1.72 -1.72zM445.0 130.98l1.72 1.72 -1.72 1.72 -1.72 -1.72zM449.0 132.58l1.72 1.72 -1.72 1.72 -1.72 -1.72zM452.5 132.58l1.72 1.72 -1.72 1.72 -1.72 -1.72zM456.3 132.58l1.72 1.72 -1.72 1.72 -1.72 -1.72zM459.5 132.58l1.72 1.72 -1.72 1.72 -1.72 -1.72zM463.5 130.98l1.72 1.72 -1.72 1.72 -1.72 -1.72zM467.4 130.98l1.72 1.72 -1.72 1.72 -1.72 -1.72zM459.5 135.28l1.72 1.72 -1.72 1.72 -1.72 -1.72zM445.0 137.28l1.72 1.72 -1.72 1.72 -1.72 -1.72zM449.0 138.88l1.72 1.72 -1.72 1.72 -1.72 -1.72zM452.5 139.28l1.72 1.72 -1.72 1.72 -1.72 -1.72zM456.3 137.68l1.72 1.72 -1.72 1.72 -1.72 -1.72zM441.9 140.88l1.72 1.72 -1.72 1.72 -1.72 -1.72zM445.0 140.88l1.72 1.72 -1.72 1.72 -1.72 -1.72zM449.0 141.68l1.72 1.72 -1.72 1.72 -1.72 -1.72zM459.5 141.68l1.72 1.72 -1.72 1.72 -1.72 -1.72zM463.5 140.88l1.72 1.72 -1.72 1.72 -1.72 -1.72zM467.4 140.88l1.72 1.72 -1.72 1.72 -1.72 -1.72zM452.5 143.98l1.72 1.72 -1.72 1.72 -1.72 -1.72zM456.3 143.98l1.72 1.72 -1.72 1.72 -1.72 -1.72zM97.8 317.88l1.72 1.72 -1.72 1.72 -1.72 -1.72zM93.4 324.88l1.72 1.72 -1.72 1.72 -1.72 -1.72zM98.0 326.48l1.72 1.72 -1.72 1.72 -1.72 -1.72zM101.9 325.58l1.72 1.72 -1.72 1.72 -1.72 -1.72zM89.4 328.78l1.72 1.72 -1.72 1.72 -1.72 -1.72zM93.4 330.18l1.72 1.72 -1.72 1.72 -1.72 -1.72zM97.8 331.18l1.72 1.72 -1.72 1.72 -1.72 -1.72zM101.9 330.18l1.72 1.72 -1.72 1.72 -1.72 -1.72zM81.5 332.48l1.72 1.72 -1.72 1.72 -1.72 -1.72zM85.8 333.08l1.72 1.72 -1.72 1.72 -1.72 -1.72zM114.1 332.78l1.72 1.72 -1.72 1.72 -1.72 -1.72zM89.4 334.78l1.72 1.72 -1.72 1.72 -1.72 -1.72zM93.4 336.08l1.72 1.72 -1.72 1.72 -1.72 -1.72zM97.8 335.78l1.72 1.72 -1.72 1.72 -1.72 -1.72zM101.9 336.78l1.72 1.72 -1.72 1.72 -1.72 -1.72zM105.9 335.78l1.72 1.72 -1.72 1.72 -1.72 -1.72zM109.8 334.48l1.72 1.72 -1.72 1.72 -1.72 -1.72zM73.6 338.88l1.72 1.72 -1.72 1.72 -1.72 -1.72zM77.6 339.08l1.72 1.72 -1.72 1.72 -1.72 -1.72zM81.5 339.58l1.72 1.72 -1.72 1.72 -1.72 -1.72zM85.5 339.58l1.72 1.72 -1.72 1.72 -1.72 -1.72zM89.4 340.28l1.72 1.72 -1.72 1.72 -1.72 -1.72zM93.4 338.28l1.72 1.72 -1.72 1.72 -1.72 -1.72zM97.8 339.78l1.72 1.72 -1.72 1.72 -1.72 -1.72zM101.8 339.48l1.72 1.72 -1.72 1.72 -1.72 -1.72zM105.8 339.28l1.72 1.72 -1.72 1.72 -1.72 -1.72zM109.7 339.28l1.72 1.72 -1.72 1.72 -1.72 -1.72zM113.6 339.28l1.72 1.72 -1.72 1.72 -1.72 -1.72zM117.9 338.68l1.72 1.72 -1.72 1.72 -1.72 -1.72zM122.2 337.78l1.72 1.72 -1.72 1.72 -1.72 -1.72zM73.7 342.88l1.72 1.72 -1.72 1.72 -1.72 -1.72zM77.5 343.28l1.72 1.72 -1.72 1.72 -1.72 -1.72zM81.6 343.28l1.72 1.72 -1.72 1.72 -1.72 -1.72zM85.4 343.58l1.72 1.72 -1.72 1.72 -1.72 -1.72zM89.5 342.88l1.72 1.72 -1.72 1.72 -1.72 -1.72zM93.3 343.28l1.72 1.72 -1.72 1.72 -1.72 -1.72zM97.9 343.78l1.72 1.72 -1.72 1.72 -1.72 -1.72zM101.8 343.78l1.72 1.72 -1.72 1.72 -1.72 -1.72zM105.8 343.78l1.72 1.72 -1.72 1.72 -1.72 -1.72zM109.7 343.78l1.72 1.72 -1.72 1.72 -1.72 -1.72zM113.6 343.78l1.72 1.72 -1.72 1.72 -1.72 -1.72zM117.9 343.78l1.72 1.72 -1.72 1.72 -1.72 -1.72zM122.1 343.48l1.72 1.72 -1.72 1.72 -1.72 -1.72zM73.7 347.38l1.72 1.72 -1.72 1.72 -1.72 -1.72zM77.5 347.98l1.72 1.72 -1.72 1.72 -1.72 -1.72zM81.6 348.28l1.72 1.72 -1.72 1.72 -1.72 -1.72zM85.4 348.58l1.72 1.72 -1.72 1.72 -1.72 -1.72zM89.5 349.58l1.72 1.72 -1.72 1.72 -1.72 -1.72zM93.6 350.48l1.72 1.72 -1.72 1.72 -1.72 -1.72zM90.8 346.28l1.72 1.72 -1.72 1.72 -1.72 -1.72zM94.6 345.28l1.72 1.72 -1.72 1.72 -1.72 -1.72zM101.8 347.08l1.72 1.72 -1.72 1.72 -1.72 -1.72zM105.8 347.68l1.72 1.72 -1.72 1.72 -1.72 -1.72zM109.7 348.28l1.72 1.72 -1.72 1.72 -1.72 -1.72zM113.9 348.28l1.72 1.72 -1.72 1.72 -1.72 -1.72zM118.2 347.88l1.72 1.72 -1.72 1.72 -1.72 -1.72zM122.1 347.28l1.72 1.72 -1.72 1.72 -1.72 -1.72zM97.9 350.28l1.72 1.72 -1.72 1.72 -1.72 -1.72zM101.8 350.08l1.72 1.72 -1.72 1.72 -1.72 -1.72zM101.8 353.58l1.72 1.72 -1.72 1.72 -1.72 -1.72zM97.4 355.28l1.72 1.72 -1.72 1.72 -1.72 -1.72zM89.5 337.48l1.72 1.72 -1.72 1.72 -1.72 -1.72zM97.7 337.48l1.72 1.72 -1.72 1.72 -1.72 -1.72zM106.0 337.48l1.72 1.72 -1.72 1.72 -1.72 -1.72zM85.5 341.28l1.72 1.72 -1.72 1.72 -1.72 -1.72zM93.5 341.28l1.72 1.72 -1.72 1.72 -1.72 -1.72zM101.8 341.28l1.72 1.72 -1.72 1.72 -1.72 -1.72zM106.0 341.28l1.72 1.72 -1.72 1.72 -1.72 -1.72zM109.8 341.28l1.72 1.72 -1.72 1.72 -1.72 -1.72zM85.5 345.68l1.72 1.72 -1.72 1.72 -1.72 -1.72zM97.7 345.68l1.72 1.72 -1.72 1.72 -1.72 -1.72zM106.0 345.68l1.72 1.72 -1.72 1.72 -1.72 -1.72zM109.8 345.68l1.72 1.72 -1.72 1.72 -1.72 -1.72zM106.0 349.48l1.72 1.72 -1.72 1.72 -1.72 -1.72zM184.2 229.28l1.72 1.72 -1.72 1.72 -1.72 -1.72zM184.0 308.88l1.72 1.72 -1.72 1.72 -1.72 -1.72zM184.0 317.58l1.72 1.72 -1.72 1.72 -1.72 -1.72zM180.2 325.48l1.72 1.72 -1.72 1.72 -1.72 -1.72zM184.2 323.88l1.72 1.72 -1.72 1.72 -1.72 -1.72zM184.2 328.78l1.72 1.72 -1.72 1.72 -1.72 -1.72zM188.5 327.58l1.72 1.72 -1.72 1.72 -1.72 -1.72zM171.9 331.28l1.72 1.72 -1.72 1.72 -1.72 -1.72zM176.2 333.08l1.72 1.72 -1.72 1.72 -1.72 -1.72zM180.2 333.48l1.72 1.72 -1.72 1.72 -1.72 -1.72zM184.2 332.88l1.72 1.72 -1.72 1.72 -1.72 -1.72zM188.5 333.08l1.72 1.72 -1.72 1.72 -1.72 -1.72zM192.2 332.48l1.72 1.72 -1.72 1.72 -1.72 -1.72zM196.5 330.68l1.72 1.72 -1.72 1.72 -1.72 -1.72zM185.7 335.58l1.72 1.72 -1.72 1.72 -1.72 -1.72zM159.6 336.28l1.72 1.72 -1.72 1.72 -1.72 -1.72zM163.9 337.48l1.72 1.72 -1.72 1.72 -1.72 -1.72zM167.9 337.48l1.72 1.72 -1.72 1.72 -1.72 -1.72zM171.9 338.38l1.72 1.72 -1.72 1.72 -1.72 -1.72zM176.2 338.68l1.72 1.72 -1.72 1.72 -1.72 -1.72zM180.2 338.98l1.72 1.72 -1.72 1.72 -1.72 -1.72zM184.2 339.28l1.72 1.72 -1.72 1.72 -1.72 -1.72zM188.2 338.68l1.72 1.72 -1.72 1.72 -1.72 -1.72zM191.8 338.38l1.72 1.72 -1.72 1.72 -1.72 -1.72zM195.8 338.38l1.72 1.72 -1.72 1.72 -1.72 -1.72zM200.2 337.78l1.72 1.72 -1.72 1.72 -1.72 -1.72zM204.2 337.08l1.72 1.72 -1.72 1.72 -1.72 -1.72zM208.5 336.18l1.72 1.72 -1.72 1.72 -1.72 -1.72zM159.6 341.08l1.72 1.72 -1.72 1.72 -1.72 -1.72zM163.9 342.28l1.72 1.72 -1.72 1.72 -1.72 -1.72zM167.9 343.18l1.72 1.72 -1.72 1.72 -1.72 -1.72zM171.9 343.48l1.72 1.72 -1.72 1.72 -1.72 -1.72zM176.2 344.08l1.72 1.72 -1.72 1.72 -1.72 -1.72zM180.2 344.08l1.72 1.72 -1.72 1.72 -1.72 -1.72zM184.2 343.78l1.72 1.72 -1.72 1.72 -1.72 -1.72zM188.2 342.88l1.72 1.72 -1.72 1.72 -1.72 -1.72zM191.8 342.88l1.72 1.72 -1.72 1.72 -1.72 -1.72zM195.8 342.88l1.72 1.72 -1.72 1.72 -1.72 -1.72zM200.2 342.58l1.72 1.72 -1.72 1.72 -1.72 -1.72zM204.2 341.78l1.72 1.72 -1.72 1.72 -1.72 -1.72zM188.2 340.88l1.72 1.72 -1.72 1.72 -1.72 -1.72zM192.0 340.88l1.72 1.72 -1.72 1.72 -1.72 -1.72zM196.0 340.88l1.72 1.72 -1.72 1.72 -1.72 -1.72zM159.6 345.08l1.72 1.72 -1.72 1.72 -1.72 -1.72zM163.9 345.98l1.72 1.72 -1.72 1.72 -1.72 -1.72zM167.9 345.68l1.72 1.72 -1.72 1.72 -1.72 -1.72zM171.9 346.88l1.72 1.72 -1.72 1.72 -1.72 -1.72zM176.2 346.88l1.72 1.72 -1.72 1.72 -1.72 -1.72zM180.2 348.08l1.72 1.72 -1.72 1.72 -1.72 -1.72zM183.9 348.08l1.72 1.72 -1.72 1.72 -1.72 -1.72zM188.0 347.48l1.72 1.72 -1.72 1.72 -1.72 -1.72zM192.0 347.08l1.72 1.72 -1.72 1.72 -1.72 -1.72zM196.0 347.08l1.72 1.72 -1.72 1.72 -1.72 -1.72zM200.0 346.78l1.72 1.72 -1.72 1.72 -1.72 -1.72zM204.0 346.08l1.72 1.72 -1.72 1.72 -1.72 -1.72zM208.0 345.28l1.72 1.72 -1.72 1.72 -1.72 -1.72zM159.6 350.58l1.72 1.72 -1.72 1.72 -1.72 -1.72zM163.9 351.18l1.72 1.72 -1.72 1.72 -1.72 -1.72zM167.9 352.08l1.72 1.72 -1.72 1.72 -1.72 -1.72zM171.9 352.08l1.72 1.72 -1.72 1.72 -1.72 -1.72zM176.2 352.78l1.72 1.72 -1.72 1.72 -1.72 -1.72zM179.9 353.08l1.72 1.72 -1.72 1.72 -1.72 -1.72zM179.9 349.98l1.72 1.72 -1.72 1.72 -1.72 -1.72zM184.2 350.58l1.72 1.72 -1.72 1.72 -1.72 -1.72zM188.0 351.08l1.72 1.72 -1.72 1.72 -1.72 -1.72zM192.0 351.18l1.72 1.72 -1.72 1.72 -1.72 -1.72zM196.0 351.18l1.72 1.72 -1.72 1.72 -1.72 -1.72zM200.0 351.18l1.72 1.72 -1.72 1.72 -1.72 -1.72zM204.0 350.88l1.72 1.72 -1.72 1.72 -1.72 -1.72zM208.3 350.28l1.72 1.72 -1.72 1.72 -1.72 -1.72zM184.2 356.88l1.72 1.72 -1.72 1.72 -1.72 -1.72zM184.2 354.28l1.72 1.72 -1.72 1.72 -1.72 -1.72zM184.2 352.58l1.72 1.72 -1.72 1.72 -1.72 -1.72z"/></g>
</svg>
</body></html>
